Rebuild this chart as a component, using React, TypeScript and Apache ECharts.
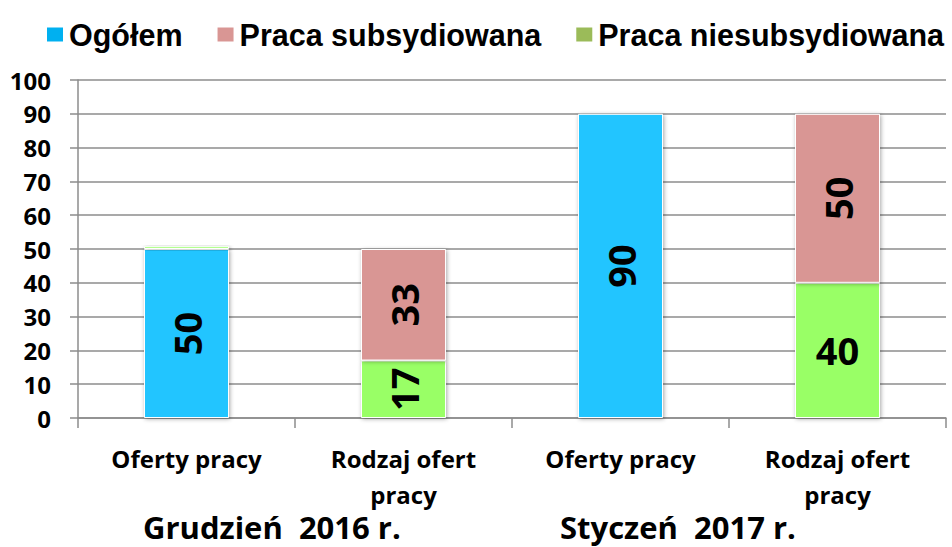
import React, { useEffect, useRef } from "react";
import * as echarts from "echarts";

const categories = ["Oferty pracy", "Rodzaj ofert pracy", "Oferty pracy", "Rodzaj ofert pracy"];
const seriesNames = ["Ogółem", "Praca subsydiowana", "Praca niesubsydiowana"];
const ogolem: (number | null)[] = [50, null, 90, null];
const subsydiowana: (number | null)[] = [null, 33, null, 50];
const niesubsydiowana: (number | null)[] = [0.8, 17, null, 40];
const yTicks = [0, 10, 20, 30, 40, 50, 60, 70, 80, 90, 100];
const groupLabels = ["Grudzień  2016 r.", "Styczeń  2017 r."];

const barColors = ["#22c5ff", "#d99694", "#99ff66"];
const legendColors = ["#00b0f0", "#d99694", "#9bbb59"];

export default function App() {
  const ref = useRef<HTMLDivElement>(null);
  useEffect(() => {
    if (!ref.current) return;
    const chart = echarts.init(ref.current, null, { renderer: "svg" });
    const font = "'Open Sans', sans-serif";
    const labelStyle = {
      show: true,
      position: "inside",
      rotate: 90,
      color: "#000",
      fontFamily: font,
      fontWeight: "bold",
      fontSize: 38,
      formatter: (p: any) => (p.value >= 5 ? String(p.value) : ""),
    };
    const itemStyle = (c: string) => ({
      color: c,
      borderColor: "#ffffff",
      borderWidth: 1,
      shadowBlur: 4,
      shadowColor: "rgba(0,0,0,0.35)",
      shadowOffsetX: 1,
      shadowOffsetY: 1,
    });
    const mk = (arr: (number | null)[], rotateZeroIdx: number[] = []) =>
      arr.map((v, i) =>
        rotateZeroIdx.includes(i) ? { value: v, label: { rotate: 0 } } : v
      );
    chart.setOption({
      animation: false,
      backgroundColor: "#ffffff",
      legend: {
        top: 14,
        left: 40,
        width: 912,
        itemWidth: 18,
        itemHeight: 16,
        itemGap: 33,
        icon: "rect",
        textStyle: {
          fontFamily: "'Liberation Sans', Arial, sans-serif",
          fontWeight: "bold",
          fontSize: 30.5,
          color: "#000",
        },
        data: seriesNames.map((n, i) => ({ name: n, itemStyle: { color: legendColors[i] } })),
      },
      grid: { left: 78, right: 6, top: 80, bottom: 129, containLabel: false },
      xAxis: {
        type: "category",
        data: categories,
        axisLine: { lineStyle: { color: "#8c8c8c", width: 1.5 } },
        axisTick: { show: true, length: 10, lineStyle: { color: "#8c8c8c", width: 1.5 } },
        axisLabel: {
          interval: 0,
          margin: 22,
          color: "#000",
          fontFamily: font,
          fontWeight: "bold",
          fontSize: 24,
          lineHeight: 36,
          formatter: (v: string) => v.replace("ofert ", "ofert\n"),
        },
      },
      yAxis: {
        type: "value",
        min: yTicks[0],
        max: yTicks[yTicks.length - 1],
        interval: 10,
        axisLine: { show: true, lineStyle: { color: "#8c8c8c", width: 1.5 } },
        axisTick: { show: true, length: 8, lineStyle: { color: "#8c8c8c", width: 1.5 } },
        splitLine: { lineStyle: { color: "#8c8c8c", width: 1.5 } },
        axisLabel: {
          margin: 27,
          color: "#000",
          fontFamily: font,
          fontWeight: "bold",
          fontSize: 24,
        },
      },
      graphic: [
        {
          type: "text",
          left: 143,
          top: 511,
          style: { text: groupLabels[0], fontFamily: font, fontWeight: "bold", fontSize: 31, fill: "#000" },
        },
        {
          type: "text",
          left: 560,
          top: 511,
          style: { text: groupLabels[1], fontFamily: font, fontWeight: "bold", fontSize: 31, fill: "#000" },
        },
      ],
      series: [
        {
          name: seriesNames[0],
          type: "bar",
          stack: "all",
          barWidth: 85,
          data: mk(ogolem),
          itemStyle: itemStyle(barColors[0]),
          label: labelStyle,
        },
        {
          name: seriesNames[2],
          type: "bar",
          stack: "all",
          barWidth: 85,
          data: mk(niesubsydiowana, [3]),
          itemStyle: itemStyle(barColors[2]),
          label: labelStyle,
        },
        {
          name: seriesNames[1],
          type: "bar",
          stack: "all",
          barWidth: 85,
          data: mk(subsydiowana),
          itemStyle: itemStyle(barColors[1]),
          label: labelStyle,
        },
      ],
    });
    return () => chart.dispose();
  }, []);
  return (
    <div
      ref={ref}
      style={{ position: "fixed", left: 0, top: 0, width: 952, height: 547, background: "#fff" }}
    />
  );
}
